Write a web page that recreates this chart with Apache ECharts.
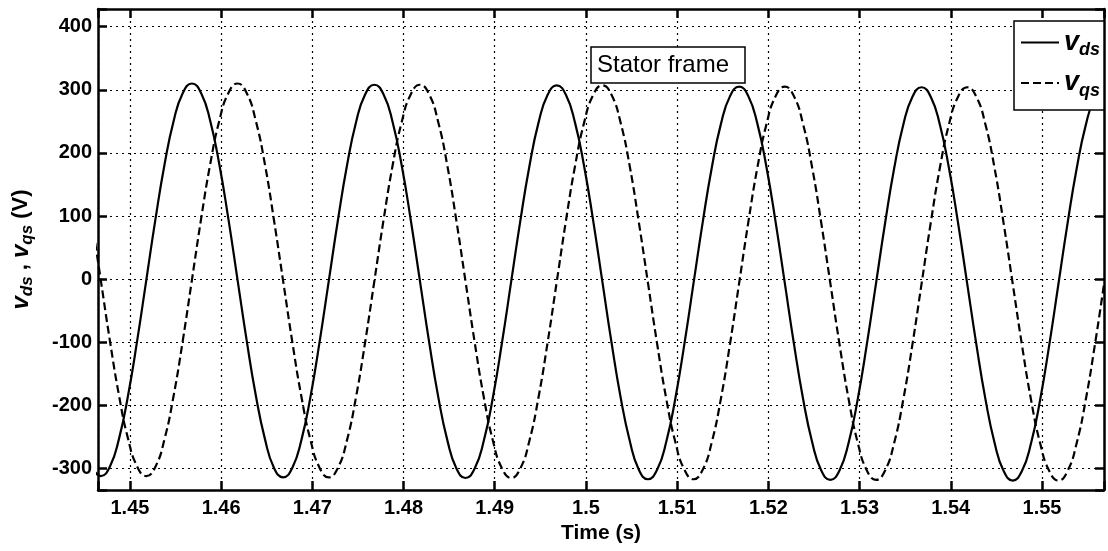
<!DOCTYPE html>
<html>
<head>
    <meta charset="utf-8">
    <title>Stator frame</title>
    <script src="https://cdn.jsdelivr.net/npm/echarts@6/dist/echarts.min.js"></script>
</head>
<body style="margin:0;background:#fff;">
    <div id="main" style="width:1108px;height:551px;"></div>
    <script type="text/javascript">
        // time samples (s), every 1 ms
        var time = [
            1.4458, 1.4468, 1.4478, 1.4488, 1.4498, 1.4508, 1.4518, 1.4528, 1.4538, 1.4548,
            1.4558, 1.4568, 1.4578, 1.4588, 1.4598, 1.4608, 1.4618, 1.4628, 1.4638, 1.4648,
            1.4658, 1.4668, 1.4678, 1.4688, 1.4698, 1.4708, 1.4718, 1.4728, 1.4738, 1.4748,
            1.4758, 1.4768, 1.4778, 1.4788, 1.4798, 1.4808, 1.4818, 1.4828, 1.4838, 1.4848,
            1.4858, 1.4868, 1.4878, 1.4888, 1.4898, 1.4908, 1.4918, 1.4928, 1.4938, 1.4948,
            1.4958, 1.4968, 1.4978, 1.4988, 1.4998, 1.5008, 1.5018, 1.5028, 1.5038, 1.5048,
            1.5058, 1.5068, 1.5078, 1.5088, 1.5098, 1.5108, 1.5118, 1.5128, 1.5138, 1.5148,
            1.5158, 1.5168, 1.5178, 1.5188, 1.5198, 1.5208, 1.5218, 1.5228, 1.5238, 1.5248,
            1.5258, 1.5268, 1.5278, 1.5288, 1.5298, 1.5308, 1.5318, 1.5328, 1.5338, 1.5348,
            1.5358, 1.5368, 1.5378, 1.5388, 1.5398, 1.5408, 1.5418, 1.5428, 1.5438, 1.5448,
            1.5458, 1.5468, 1.5478, 1.5488, 1.5498, 1.5508, 1.5518, 1.5528, 1.5538, 1.5548,
            1.5558, 1.5568
        ];

        // v_ds (V), solid line
        var vds = [
            -297, -312, -297, -253, -184, -97, -1, 95, 182, 251, 295, 310, 295, 251, 182, 95, -1, -97, -184, -253,
            -299, -314, -299, -255, -186, -99, -3, 93, 180, 249, 293, 308, 293, 249, 180, 93, -3, -99, -186, -255,
            -300, -315, -300, -256, -187, -100, -4, 92, 179, 248, 292, 307, 292, 248, 179, 92, -4, -100, -187, -256,
            -302, -317, -302, -258, -189, -102, -6, 90, 177, 246, 290, 305, 290, 246, 177, 90, -6, -102, -189, -258,
            -303, -318, -303, -259, -190, -103, -7, 89, 176, 245, 289, 304, 289, 245, 176, 89, -7, -103, -190, -259,
            -304, -319, -304, -260, -191, -104, -8, 88, 175, 244, 288, 303
        ];

        // v_qs (V), dashed line
        var vqs = [
            95, -1, -97, -184, -253, -297, -312, -297, -253, -184, -97, -1, 95, 182, 251, 295, 310, 295, 251, 182,
            93, -3, -99, -186, -255, -299, -314, -299, -255, -186, -99, -3, 93, 180, 249, 293, 308, 293, 249, 180,
            92, -4, -100, -187, -256, -300, -315, -300, -256, -187, -100, -4, 92, 179, 248, 292, 307, 292, 248, 179,
            90, -6, -102, -189, -258, -302, -317, -302, -258, -189, -102, -6, 90, 177, 246, 290, 305, 290, 246, 177,
            89, -7, -103, -190, -259, -303, -318, -303, -259, -190, -103, -7, 89, 176, 245, 289, 304, 289, 245, 176,
            88, -8, -104, -191, -260, -304, -319, -304, -260, -191, -104, -8
        ];

        var seriesNames = ['vds', 'vqs'];
        var legendText = { vds: '{v|v}{s|ds}', vqs: '{v|v}{s|qs}' };

        var font = "'Liberation Sans', Arial, sans-serif";
        var xMin = 1.4465, xMax = 1.5568;
        var yMin = -334, yMax = 428;

        function pairs(ys) {
            return time.map(function (t, i) { return [t, ys[i]]; });
        }

        var myChart = echarts.init(document.getElementById('main'));

        var tickStyle = { show: true, inside: true, length: 9, lineStyle: { color: '#000', width: 2.5 } };
        var lineStyleAxis = { show: true, onZero: false, lineStyle: { color: '#000', width: 2.5 } };

        var option = {
            animation: false,
            backgroundColor: '#fff',
            title: {
                text: 'Stator frame',
                left: 591,
                top: 47,
                padding: [4, 16, 4, 6],
                borderColor: '#000',
                borderWidth: 1.5,
                backgroundColor: '#fff',
                textStyle: { fontFamily: font, fontWeight: 'normal', fontSize: 24, color: '#000', lineHeight: 28 }
            },
            legend: {
                data: seriesNames,
                orient: 'vertical',
                left: 1014,
                top: 21,
                width: 88,
                padding: [8, 4, 10, 6],
                itemGap: 10,
                itemWidth: 38,
                itemHeight: 14,
                backgroundColor: '#fff',
                borderColor: '#000',
                borderWidth: 1.5,
                itemStyle: { color: 'transparent', borderColor: 'transparent', borderWidth: 0, opacity: 0 },
                formatter: function (name) { return legendText[name]; },
                textStyle: {
                    color: '#000',
                    rich: {
                        v: { fontFamily: font, fontSize: 27, fontWeight: 'bold', fontStyle: 'italic', color: '#000' },
                        s: { fontFamily: font, fontSize: 18, fontWeight: 'bold', fontStyle: 'italic', color: '#000', padding: [16, 0, 0, 0] }
                    }
                }
            },
            grid: { left: 98, right: 4, top: 9, bottom: 61 },
            xAxis: [
                {
                    type: 'value',
                    min: xMin,
                    max: xMax,
                    splitNumber: 11,
                    name: 'Time (s)',
                    nameLocation: 'middle',
                    nameGap: 32,
                    nameTextStyle: { fontFamily: font, fontWeight: 'bold', fontSize: 21, color: '#000' },
                    axisLine: lineStyleAxis,
                    axisTick: tickStyle,
                    axisLabel: {
                        margin: 8,
                        fontFamily: font, fontWeight: 'bold', fontSize: 20, color: '#000',
                        formatter: function (v) {
                            var r = Math.round(v * 100);
                            return Math.abs(v * 100 - r) < 1e-6 ? String(r / 100) : '';
                        }
                    },
                    splitLine: { show: true, lineStyle: { color: '#000', type: [2, 4], width: 1.2 } }
                },
                {
                    type: 'value',
                    position: 'top',
                    min: xMin,
                    max: xMax,
                    splitNumber: 11,
                    axisLine: lineStyleAxis,
                    axisTick: tickStyle,
                    axisLabel: { show: false },
                    splitLine: { show: false }
                }
            ],
            yAxis: [
                {
                    type: 'value',
                    min: yMin,
                    max: yMax,
                    splitNumber: 8,
                    name: '{v|v}{s|ds}{t| , }{v|v}{s|qs}{t| (V)}',
                    nameLocation: 'middle',
                    nameGap: 62,
                    nameTextStyle: {
                        color: '#000',
                        rich: {
                            v: { fontFamily: font, fontSize: 24, fontWeight: 'bold', fontStyle: 'italic', color: '#000' },
                            s: { fontFamily: font, fontSize: 17, fontWeight: 'bold', fontStyle: 'italic', color: '#000', padding: [13, 0, 0, 0] },
                            t: { fontFamily: font, fontSize: 22, fontWeight: 'bold', color: '#000' }
                        }
                    },
                    axisLine: lineStyleAxis,
                    axisTick: tickStyle,
                    axisLabel: {
                        margin: 6,
                        fontFamily: font, fontWeight: 'bold', fontSize: 20, color: '#000',
                        formatter: function (v) {
                            return (Math.abs(v % 100) < 1e-6) ? String(v) : '';
                        }
                    },
                    splitLine: { show: true, lineStyle: { color: '#000', type: [2, 4], width: 1.2 } }
                },
                {
                    type: 'value',
                    position: 'right',
                    min: yMin,
                    max: yMax,
                    splitNumber: 8,
                    axisLine: lineStyleAxis,
                    axisTick: tickStyle,
                    axisLabel: { show: false },
                    splitLine: { show: false }
                }
            ],
            series: [
                {
                    name: 'vds',
                    type: 'line',
                    xAxisIndex: 0,
                    yAxisIndex: 0,
                    smooth: true,
                    symbol: 'none',
                    showSymbol: false,
                    color: '#000',
                    lineStyle: { color: '#000', width: 2.2, type: 'solid' },
                    data: pairs(vds)
                },
                {
                    name: 'vqs',
                    type: 'line',
                    xAxisIndex: 0,
                    yAxisIndex: 0,
                    smooth: true,
                    symbol: 'none',
                    showSymbol: false,
                    color: '#000',
                    lineStyle: { color: '#000', width: 2.2, type: [8, 4] },
                    data: pairs(vqs)
                }
            ]
        };

        myChart.setOption(option);
    </script>
</body>
</html>
